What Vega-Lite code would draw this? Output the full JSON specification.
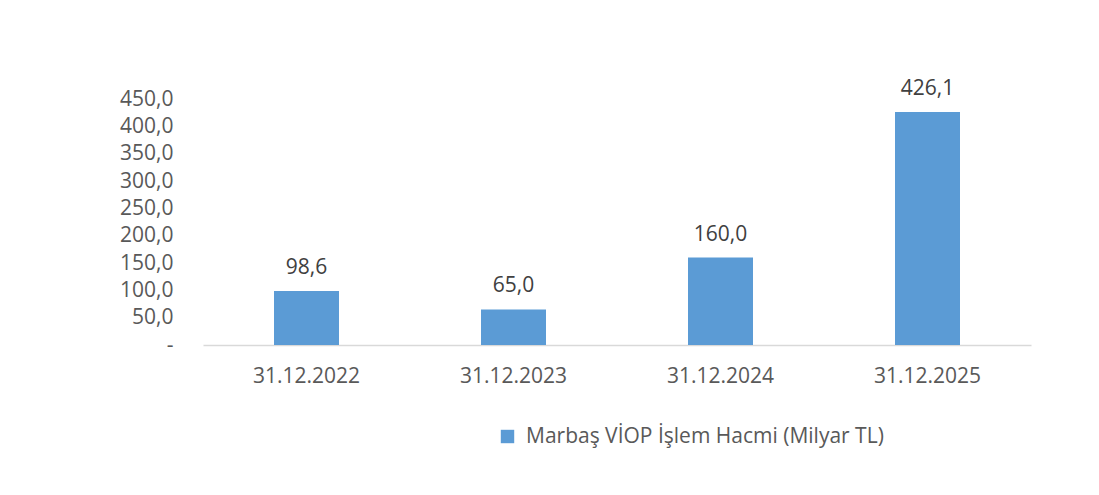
{
  "$schema": "https://vega.github.io/schema/vega-lite/v6.json",
  "autosize": {"type": "none"},
  "width": 828,
  "height": 246,
  "padding": {"left": 203, "top": 99, "right": 68, "bottom": 150},
  "background": "white",
  "config": {
    "view": {"stroke": null},
    "font": "Open Sans",
    "locale": {"number": {"decimal": ",", "thousands": ".", "grouping": [3], "currency": ["", " TL"]}}
  },
  "data": {
    "values": [
      {"tarih": "31.12.2022", "seri": "Marbaş VİOP İşlem Hacmi (Milyar TL)", "hacim": 98.6},
      {"tarih": "31.12.2023", "seri": "Marbaş VİOP İşlem Hacmi (Milyar TL)", "hacim": 65.0},
      {"tarih": "31.12.2024", "seri": "Marbaş VİOP İşlem Hacmi (Milyar TL)", "hacim": 160.0},
      {"tarih": "31.12.2025", "seri": "Marbaş VİOP İşlem Hacmi (Milyar TL)", "hacim": 426.1}
    ]
  },
  "encoding": {
    "x": {
      "field": "tarih", "type": "nominal", "sort": null,
      "scale": {"paddingInner": 0.686, "paddingOuter": 0.343},
      "axis": {
        "title": null, "labelAngle": 0, "labelFontSize": 21, "labelColor": "#595959",
        "labelPadding": 20, "ticks": false, "domainColor": "#d9d9d9", "domainWidth": 1.5
      }
    },
    "y": {
      "field": "hacim", "type": "quantitative",
      "scale": {"domain": [0, 450], "nice": false},
      "axis": {
        "title": null, "values": [0, 50, 100, 150, 200, 250, 300, 350, 400, 450],
        "format": ".1f", "labelExpr": "datum.value == 0 ? '-' : datum.label",
        "labelFontSize": 21, "labelColor": "#595959", "labelPadding": 30,
        "ticks": false, "domain": false, "grid": false
      }
    }
  },
  "layer": [
    {
      "mark": {"type": "bar", "color": "#5b9bd5"},
      "encoding": {
        "color": {
          "field": "seri", "type": "nominal",
          "scale": {"range": ["#5b9bd5"]},
          "legend": {
            "title": null, "orient": "none", "legendX": 294, "legendY": 327,
            "symbolType": "square", "symbolSize": 180, "symbolStrokeWidth": 0,
            "labelFontSize": 21, "labelColor": "#595959", "labelLimit": 600, "labelOffset": 8
          }
        }
      }
    },
    {
      "mark": {"type": "text", "baseline": "bottom", "dy": -13, "fontSize": 21, "color": "#404040"},
      "encoding": {
        "text": {"field": "hacim", "type": "quantitative", "format": ".1f"}
      }
    }
  ]
}
